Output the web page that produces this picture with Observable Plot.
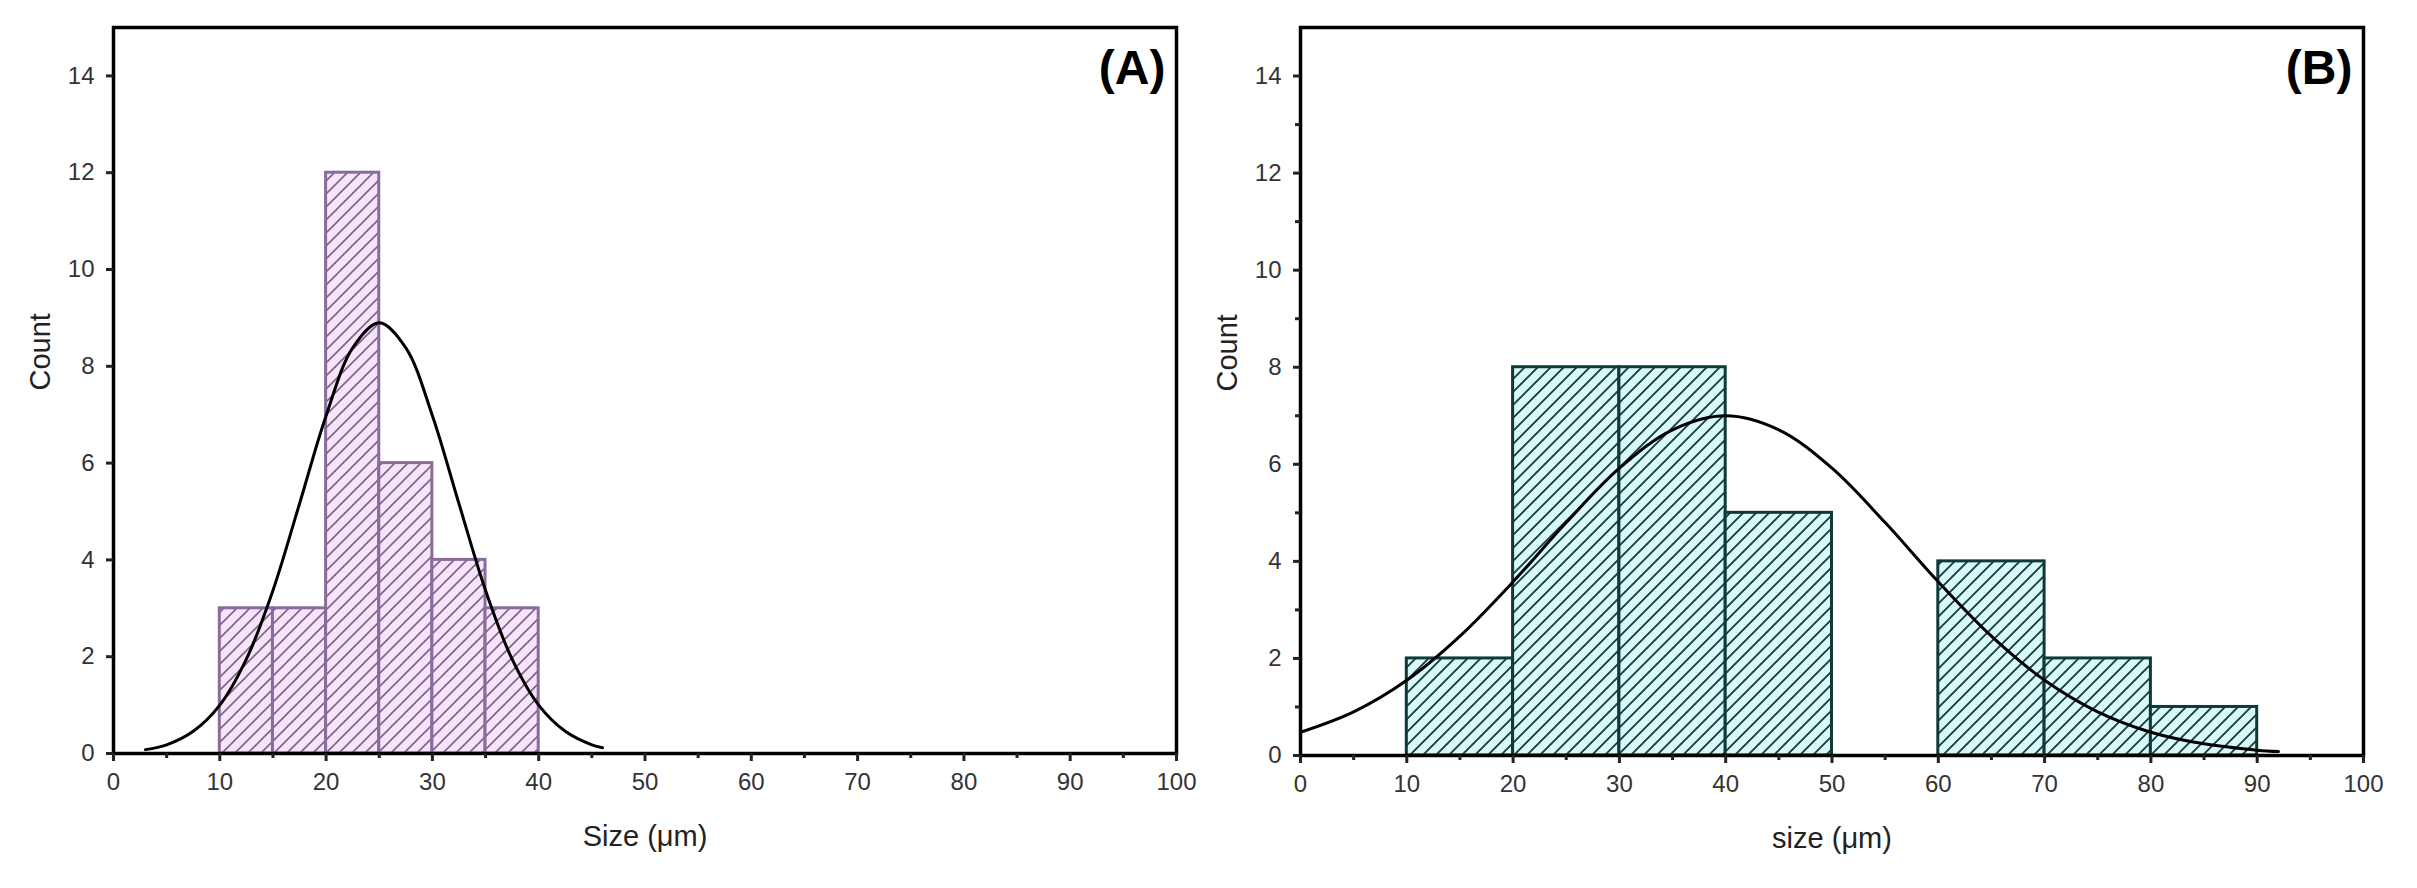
<!DOCTYPE html>
<html>
<head>
<meta charset="utf-8">
<script src="https://cdn.jsdelivr.net/npm/d3@7"></script>
<script src="https://cdn.jsdelivr.net/npm/@observablehq/plot@0.6"></script>
<style>
  body { margin: 0; background: white; overflow: hidden; }
  #wrap { display: flex; width: 2417px; height: 888px; }
</style>
</head>
<body>
<div id="wrap"><div id="chartA"></div><div id="chartB"></div></div>
<script>
// histogram A (Size, 5 µm bins)
const startsA = [10, 15, 20, 25, 30, 35]
const endsA = [15, 20, 25, 30, 35, 40]
const countsA = [3, 3, 12, 6, 4, 3]
// fitted curve A
const curveXA = [3, 5, 7.5, 10, 12.5, 15, 17.5, 20, 22.5, 25, 27.5, 30, 32.5, 35, 37.5, 40, 42.5, 45, 46]
const curveYA = [0.08, 0.18, 0.46, 1.0, 1.95, 3.37, 5.16, 6.98, 8.38, 8.9, 8.38, 6.98, 5.16, 3.37, 1.95, 1.0, 0.46, 0.18, 0.12]

// histogram B (size, 10 µm bins)
const startsB = [10, 20, 30, 40, 50, 60, 70, 80]
const endsB = [20, 30, 40, 50, 60, 70, 80, 90]
const countsB = [2, 8, 8, 5, 0, 4, 2, 1]
const curveXB = [0, 5, 10, 15, 20, 25, 30, 35, 40, 45, 50, 55, 60, 65, 70, 75, 80, 85, 90, 92]
const curveYB = [0.48, 0.9, 1.55, 2.46, 3.58, 4.8, 5.92, 6.71, 7.0, 6.71, 5.92, 4.8, 3.58, 2.46, 1.55, 0.9, 0.48, 0.24, 0.11, 0.08]

const xTicks = [0, 10, 20, 30, 40, 50, 60, 70, 80, 90, 100]
const xMinor = [5, 15, 25, 35, 45, 55, 65, 75, 85, 95]
const yTicks = [0, 2, 4, 6, 8, 10, 12, 14]
const yMinor = [1, 3, 5, 7, 9, 11, 13]

const panelLabels = ["(A)", "(B)"]
const xTitles = ["Size (μm)", "size (μm)"]
const yTitle = "Count"

const font = "'Liberation Sans', Arial, sans-serif"

function histo(opts) {
  let bins = opts.starts.map((s, i) => ({x1: s, x2: opts.ends[i], count: opts.counts[i]}))
  let curve = opts.cx.map((x, i) => ({x: x, y: opts.cy[i]}))
  let marks = [
    Plot.rectY(bins, {x1: "x1", x2: "x2", y: "count", fill: `url(#${opts.pattern})`,
      stroke: opts.edge, strokeWidth: 3}),
    Plot.line(curve, {x: "x", y: "y", curve: "catmull-rom", stroke: "black", strokeWidth: 3}),
    Plot.frame({stroke: "black", strokeWidth: 3.5}),
    Plot.axisX(xTicks, {tickSize: 8, tickPadding: 11, strokeWidth: 3, fill: "#333"}),
    Plot.axisX(xMinor, {tickSize: 5, strokeWidth: 3, tickFormat: () => ""}),
    Plot.axisY(yTicks, {tickSize: 7, tickPadding: 12, strokeWidth: 3, fill: "#333"}),
    Plot.text([opts.label], {frameAnchor: "top-right", text: d => d, textAnchor: "end", lineAnchor: "top",
      dx: -11, dy: 22, fontSize: 48, fontWeight: "bold", fill: "black"}),
    Plot.text([opts.xTitle], {frameAnchor: "bottom", text: d => d, lineAnchor: "middle",
      dy: 83, fontSize: 29, fill: "#222"}),
    Plot.text([yTitle], {frameAnchor: "left", text: d => d, rotate: -90, lineAnchor: "middle",
      dx: -73, fontSize: 29, fill: "#222"})
  ]
  if (opts.minorY) marks.push(Plot.axisY(yMinor, {tickSize: 5, strokeWidth: 3, tickFormat: () => ""}))
  let chart = Plot.plot({
    width: opts.width,
    height: 888,
    marginLeft: opts.marginLeft,
    marginRight: opts.marginRight,
    marginTop: 27,
    marginBottom: opts.marginBottom,
    x: {domain: [0, 100], label: null},
    y: {domain: [0, 15], label: null},
    style: {fontFamily: font, fontSize: "24px", color: "#222", background: "transparent", overflow: "visible"},
    marks: marks
  })
  return chart
}

let chartA = histo({
  starts: startsA, ends: endsA, counts: countsA, cx: curveXA, cy: curveYA,
  pattern: "hatchA", edge: "#8a6c9c", label: panelLabels[0], xTitle: xTitles[0],
  width: 1190, marginLeft: 113, marginRight: 14, marginBottom: 135, minorY: false
})
let chartB = histo({
  starts: startsB, ends: endsB, counts: countsB, cx: curveXB, cy: curveYB,
  pattern: "hatchB", edge: "#0f3a3a", label: panelLabels[1], xTitle: xTitles[1],
  width: 1227, marginLeft: 110, marginRight: 54, marginBottom: 133, minorY: true
})

// diagonal hatch patterns for the bars
function addHatch(svg, id, bg, line, w) {
  let p = d3.select(svg).insert("defs", ":first-child").append("pattern")
    .attr("id", id).attr("patternUnits", "userSpaceOnUse")
    .attr("width", 13).attr("height", 13)
  p.append("rect").attr("width", 13).attr("height", 13).attr("fill", bg)
  p.append("path").attr("d", "M0,13L13,0M-3,3L3,-3M10,16L16,10")
    .attr("stroke", line).attr("stroke-width", w)
}
addHatch(chartA, "hatchA", "#f8e4fa", "#76668a", 1.6)
addHatch(chartB, "hatchB", "#d9f8f8", "#133b3b", 1.8)

d3.select("#chartA").append(() => chartA)
d3.select("#chartB").append(() => chartB)
</script>
</body>
</html>
